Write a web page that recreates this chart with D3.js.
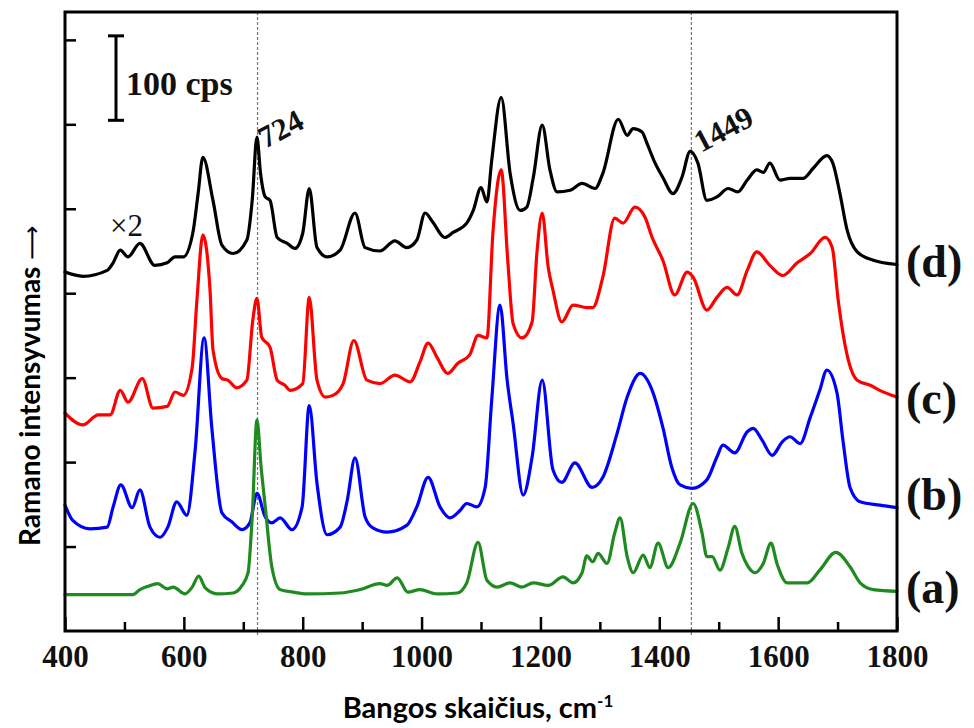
<!DOCTYPE html>
<html>
<head>
<meta charset="utf-8">
<script src="https://cdn.jsdelivr.net/npm/d3@7"></script>
<style>
  html, body { margin: 0; padding: 0; background: #fff; }
  svg { display: block; }
  .xtick text { font-family: "Liberation Serif", "Times New Roman", serif !important; font-weight: bold; font-size: 31px; }
</style>
</head>
<body>
<svg id="chart" width="974" height="728"></svg>
<script>
// ---------------- DATA (wavenumber cm-1, intensity in cps) ----------------
const seriesNames = ["(d)", "(c)", "(b)", "(a)"];
const seriesColors = ["#000000", "#ff0000", "#0000ff", "#1f8a1f"];

const specD_x = [400,430,471,481,493,506,526,551,572,585,599,615,624,632,649,664,683,706,715,723,729,737,745,757,774,787,800,811,824,841,863,888,905,930,955,975,992,1006,1019,1039,1053,1076,1087,1100,1110,1118,1134,1149,1166,1177,1188,1203,1216,1228,1250,1270,1292,1305,1331,1346,1356,1371,1379,1393,1406,1423,1438,1452,1465,1480,1497,1516,1532,1548,1564,1575,1586,1603,1620,1642,1659,1682,1692,1704,1716,1733,1760,1800];
const specD_y = [425,420,427,436,451,443,459,433,436,443,443,471,518,561,510,457,447,463,510,585,542,514,510,466,459,453,471,524,454,443,451,495,454,450,462,454,463,495,484,466,472,483,498,525,508,557,632,542,498,502,537,599,546,520,522,530,524,542,606,587,595,591,578,554,537,518,537,568,554,510,514,524,520,534,546,543,554,534,536,536,548,563,554,518,475,449,439,434];

const specC_x = [400,430,456,476,493,506,530,548,572,585,599,614,622,632,644,649,664,674,689,706,716,723,731,745,757,770,779,800,811,824,838,851,868,886,908,930,955,981,997,1011,1026,1044,1061,1081,1095,1110,1120,1134,1145,1154,1169,1186,1194,1203,1213,1221,1236,1255,1278,1288,1305,1325,1339,1359,1376,1388,1406,1426,1447,1457,1480,1497,1514,1531,1548,1564,1586,1608,1632,1654,1679,1691,1701,1709,1718,1733,1755,1771,1800];
const specC_y = [258,244,256,256,285,271,299,264,266,283,279,312,392,469,404,333,299,297,288,297,368,394,348,336,297,291,285,293,395,297,277,279,293,344,297,293,303,295,318,341,324,305,317,327,350,347,471,546,439,364,347,366,447,495,431,404,366,386,383,383,419,489,483,502,490,466,439,398,425,419,380,395,407,398,427,449,433,421,436,447,466,454,392,353,321,297,291,285,277];

const specB_x = [400,413,442,471,481,494,513,526,543,560,573,588,605,619,634,647,664,681,698,711,723,737,748,762,782,799,811,824,841,863,875,888,905,918,942,975,992,1011,1031,1048,1065,1076,1093,1107,1118,1132,1144,1154,1171,1186,1203,1221,1236,1258,1287,1305,1329,1346,1368,1388,1406,1421,1435,1455,1480,1497,1507,1527,1548,1558,1573,1590,1607,1620,1637,1654,1670,1682,1699,1709,1721,1738,1771,1800];
const specB_y = [149,131,121,123,147,173,146,167,123,111,123,153,137,214,347,241,140,129,120,128,163,135,128,134,120,147,267,175,114,123,155,205,135,122,117,125,147,182,147,134,143,151,147,170,273,386,297,246,161,206,297,191,176,199,170,182,234,277,305,285,241,194,173,169,179,206,220,211,236,240,226,208,224,230,222,253,285,309,282,226,170,153,149,146];

const specA_x = [400,514,526,540,556,572,582,602,614,625,636,656,683,698,708,715,723,730,737,748,762,784,807,863,896,930,942,959,977,997,1026,1060,1076,1095,1110,1127,1149,1169,1188,1213,1238,1255,1270,1278,1288,1297,1312,1325,1334,1346,1356,1373,1384,1398,1415,1435,1457,1472,1480,1489,1502,1516,1527,1539,1548,1561,1575,1588,1598,1615,1649,1670,1697,1721,1738,1760,1800];
const specA_y = [43,43,49,53,56,50,52,44,52,65,51,44,45,54,69,135,250,194,147,76,49,46,44,45,49,56,54,63,46,49,44,45,57,105,60,52,57,52,57,54,64,57,69,89,82,92,80,116,134,88,69,90,75,104,75,104,151,116,88,88,72,99,124,92,78,69,80,104,80,57,57,72,93,76,57,49,47];

const xTickMajor = [400,600,800,1000,1200,1400,1600,1800];
const xTickMinor = [500,700,900,1100,1300,1500,1700];
const yTicks = [100,200,300,400,500,600,700];
const markerLines = [724, 1454];
const markerLabels = ["724", "1449"];
const scaleBarCps = [600, 700];
const scaleBarLabel = "100 cps";
const xTitle = "Bangos skaičius, cm";
const xTitleSup = "-1";
const yTitle = "Ramano intensyvumas ";
const yArrow = "\u27F6";

// ---------------- LAYOUT ----------------
const M = { left: 65, top: 12, right: 897, bottom: 631 };
const svg = d3.select("#chart");
const x = d3.scaleLinear().domain([400, 1800]).range([M.left, M.right]);
const y = d3.scaleLinear().domain([0, 733]).range([M.bottom, M.top]);
const serif = "'Liberation Serif', 'Times New Roman', serif";
const sans = "Lato, 'Open Sans', sans-serif";

// marker dotted lines
svg.append("g").selectAll("line").data(markerLines).join("line")
  .attr("x1", d => x(d)).attr("x2", d => x(d))
  .attr("y1", M.top).attr("y2", M.bottom + 6)
  .attr("stroke", "#777").attr("stroke-width", 1.2)
  .attr("stroke-dasharray", "3,2");

// x axis ticks (inward)
const gxMaj = svg.append("g").attr("class", "xtick").attr("transform", `translate(0,${M.bottom})`)
  .call(d3.axisBottom(x).tickValues(xTickMajor).tickSizeInner(-14).tickSizeOuter(0).tickPadding(14).tickFormat(d3.format("d")));
const gxMin = svg.append("g").attr("transform", `translate(0,${M.bottom})`)
  .call(d3.axisBottom(x).tickValues(xTickMinor).tickSizeInner(-9).tickSizeOuter(0).tickFormat(""));
[gxMaj, gxMin].forEach(g => {
  g.select(".domain").remove();
  g.attr("font-family", serif).attr("font-size", 31).attr("font-weight", "bold");
  g.selectAll(".tick line").attr("stroke", "#000").attr("stroke-width", 2.5);
});
gxMaj.selectAll(".tick text")
  .attr("font-family", serif).attr("font-weight", "bold")
  .attr("font-size", 31).attr("fill", "#111");

// y axis ticks (inward, no labels)
const gy = svg.append("g").attr("transform", `translate(${M.left},0)`)
  .call(d3.axisLeft(y).tickValues(yTicks).tickSizeInner(-11).tickSizeOuter(0).tickFormat(""));
gy.select(".domain").remove();
gy.selectAll(".tick line").attr("stroke", "#000").attr("stroke-width", 2.5);

// spectra
const series = [
  { xs: specD_x, ys: specD_y },
  { xs: specC_x, ys: specC_y },
  { xs: specB_x, ys: specB_y },
  { xs: specA_x, ys: specA_y }
];
const line = d3.line().x(d => x(d[0])).y(d => y(d[1])).curve(d3.curveMonotoneX);
series.forEach((s, i) => {
  const pts = s.xs.map((v, j) => [v, s.ys[j]]);
  svg.append("path").datum(pts)
    .attr("d", line)
    .attr("fill", "none")
    .attr("stroke", seriesColors[i])
    .attr("stroke-width", 3.2)
    .attr("stroke-linejoin", "round")
    .attr("stroke-linecap", "round");
});

// frame
svg.append("rect")
  .attr("x", M.left).attr("y", M.top)
  .attr("width", M.right - M.left).attr("height", M.bottom - M.top)
  .attr("fill", "none").attr("stroke", "#000").attr("stroke-width", 3);

// series labels at right
const labelBaselines = [277, 414, 510, 603];
svg.append("g").selectAll("text").data(seriesNames).join("text")
  .attr("x", M.right + 9)
  .attr("y", (d, i) => labelBaselines[i])
  .style("font-family", serif).style("font-weight", "bold")
  .style("font-size", "46px").attr("fill", "#111")
  .text(d => d);

// marker labels (rotated)
const markerLabelPos = [[265, 149], [701, 153]];
svg.append("g").selectAll("text").data(markerLabels).join("text")
  .attr("transform", (d, i) => `translate(${markerLabelPos[i][0]},${markerLabelPos[i][1]}) rotate(-28)`)
  .style("font-family", serif).style("font-weight", "bold").style("font-size", "31px").attr("fill", "#111")
  .text(d => d);

// x2 label
svg.append("text").attr("x", 110).attr("y", 236)
  .style("font-family", serif).style("font-size", "31px").attr("fill", "#111")
  .text("\u00D72");

// scale bar
const sbx = 116;
const sb = svg.append("g").attr("stroke", "#000").attr("stroke-width", 3);
sb.append("line").attr("x1", sbx).attr("x2", sbx).attr("y1", y(scaleBarCps[1]) - 4).attr("y2", y(scaleBarCps[0]) - 4);
sb.append("line").attr("x1", sbx - 8).attr("x2", sbx + 8).attr("y1", y(scaleBarCps[1]) - 4).attr("y2", y(scaleBarCps[1]) - 4);
sb.append("line").attr("x1", sbx - 8).attr("x2", sbx + 8).attr("y1", y(scaleBarCps[0]) - 4).attr("y2", y(scaleBarCps[0]) - 4);
svg.append("text").attr("x", 126).attr("y", 95)
  .style("font-family", serif).style("font-weight", "bold")
  .style("font-size", "34px").attr("fill", "#111")
  .text(scaleBarLabel);

// axis titles
const xt = svg.append("text").attr("x", 478).attr("y", 718)
  .attr("text-anchor", "middle")
  .style("font-family", sans).style("font-weight", "bold")
  .style("font-size", "29px").attr("fill", "#000");
xt.append("tspan").text(xTitle);
xt.append("tspan").attr("dy", -11).style("font-size", "17px").text(xTitleSup);

const yt = svg.append("text")
  .attr("transform", "translate(40,546) rotate(-90)")
  .attr("text-anchor", "start")
  .style("font-family", sans).style("font-weight", "bold")
  .style("font-size", "28px").attr("fill", "#000");
yt.append("tspan").text(yTitle);
yt.append("tspan").style("font-family", "'DejaVu Sans', sans-serif").style("font-size", "24px").style("font-weight", "normal").text(yArrow);
</script>
</body>
</html>
